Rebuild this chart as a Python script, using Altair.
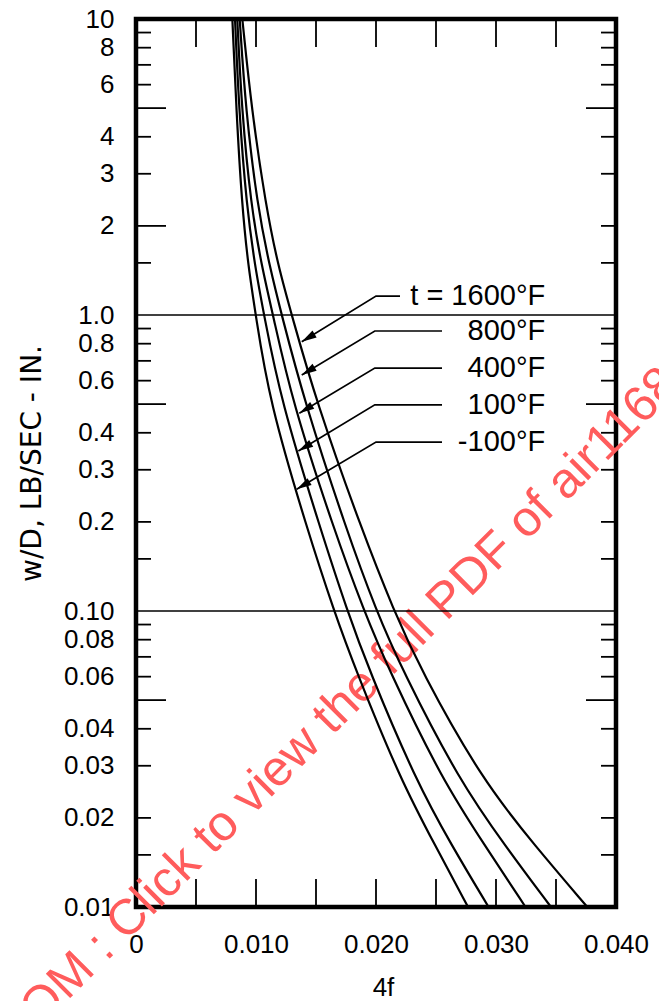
import altair as alt
import pandas as pd

# ---------------- data ----------------
TEMPS = ["-100", "100", "400", "800", "1600"]
WD_LEVELS = [10, 4.93, 2.35, 1.455, 1.0, 0.516, 0.188, 0.1, 0.0632, 0.0268, 0.016, 0.01]
F4_M100 = [0.00803, 0.00836, 0.00883, 0.00936, 0.00998, 0.01108, 0.01428, 0.0165, 0.01831, 0.02206, 0.02498, 0.02767]
F4_100 = [0.00825, 0.00858, 0.00921, 0.00992, 0.01067, 0.01206, 0.01539, 0.01761, 0.01942, 0.02331, 0.02636, 0.02938]
F4_400 = [0.00844, 0.00881, 0.00958, 0.01048, 0.01142, 0.01298, 0.0165, 0.019, 0.02108, 0.02553, 0.02914, 0.03246]
F4_800 = [0.00864, 0.00914, 0.01011, 0.01114, 0.01214, 0.014, 0.01753, 0.02003, 0.02219, 0.02692, 0.03081, 0.03458]
F4_1600 = [0.00886, 0.00964, 0.01081, 0.01186, 0.01298, 0.01498, 0.01881, 0.0215, 0.02373, 0.02886, 0.03331, 0.03761]

LABELS = ["t = 1600°F", "800°F", "400°F", "100°F", "-100°F"]
LABEL_RIGHT_X = [0.0341, 0.0341, 0.0341, 0.0341, 0.0341]
LABEL_Y = [1.159, 0.883, 0.662, 0.497, 0.372]
LEADER_START_X = [0.0220, 0.0255, 0.0255, 0.0255, 0.0255]
LEADER_KNEE_X = [0.0200, 0.0199, 0.0199, 0.0199, 0.0200]
ARROW_TIP_X = [0.01381, 0.01381, 0.01361, 0.01353, 0.01339]
ARROW_TIP_Y = [0.812, 0.627, 0.466, 0.347, 0.2577]

X_LABEL_VALUES = [0, 0.01, 0.02, 0.03, 0.04]
X_MINOR_TICKS = [0.005, 0.010, 0.015, 0.020, 0.025, 0.030, 0.035]
Y_LABEL_VALUES = [0.01, 0.02, 0.03, 0.04, 0.06, 0.08, 0.1, 0.2, 0.3, 0.4, 0.6, 0.8,
                  1.0, 2, 3, 4, 6, 8, 10]
Y_TICKS_SHORT = [0.015, 0.02, 0.03, 0.04, 0.06, 0.07, 0.08, 0.09,
                 0.15, 0.2, 0.3, 0.4, 0.6, 0.7, 0.8, 0.9,
                 1.5, 3, 4, 6, 7, 8, 9]
Y_TICKS_LONG = [0.05, 0.5, 2, 5]
Y_TICKS_SHORT_R = [0.015, 0.02, 0.03, 0.04, 0.06, 0.07, 0.08, 0.09,
                   0.15, 0.2, 0.3, 0.4, 0.6, 0.7, 0.8, 0.9,
                   1.5, 2, 3, 4, 6, 7, 8, 9]
Y_TICKS_LONG_R = [0.05, 0.5, 5]
GRID_Y = [1.0, 0.1]

WM_TEXT = "OM : Click to view the full PDF of air1168"
WM_X = [0.01783]
WM_Y = [0.0512]

# ---------------- tables ----------------
curve_rows = []
for t, xs in zip(TEMPS, [F4_M100, F4_100, F4_400, F4_800, F4_1600]):
    for i, (xv, yv) in enumerate(zip(xs, WD_LEVELS)):
        curve_rows.append({"x": xv, "y": yv, "t": t, "o": i})
curves_df = pd.DataFrame(curve_rows)

lead_rows = []
for i, lab in enumerate(LABELS):
    lead_rows.append({"x": LEADER_START_X[i], "y": LABEL_Y[i], "lab": lab, "o": 0})
    lead_rows.append({"x": LEADER_KNEE_X[i], "y": LABEL_Y[i], "lab": lab, "o": 1})
    lead_rows.append({"x": ARROW_TIP_X[i], "y": ARROW_TIP_Y[i], "lab": lab, "o": 2})
lead_df = pd.DataFrame(lead_rows)
tips_df = pd.DataFrame({"x": ARROW_TIP_X, "y": ARROW_TIP_Y})
labels_df = pd.DataFrame({"x": LABEL_RIGHT_X, "y": LABEL_Y, "label": LABELS})
wm_df = pd.DataFrame({"x": WM_X, "y": WM_Y, "label": [WM_TEXT]})

W, H = 480, 888
FONT = "Liberation Sans"

x_scale = alt.Scale(domain=[0, 0.04], nice=False, zero=False)
y_scale = alt.Scale(type="log", domain=[0.01, 10], nice=False)

x_axis = alt.Axis(
    values=X_LABEL_VALUES,
    labelExpr="datum.value == 0 ? '0' : format(datum.value, '.3f')",
    ticks=False, domain=False, grid=False,
    labelFont=FONT, labelFontSize=26, labelColor="black", labelPadding=24,
    labelFlush=False, labelOverlap=False,
    title="4f", titleFont=FONT, titleFontSize=26, titleFontWeight="normal",
    titleColor="black", titleX=247, titleY=80, titleBaseline="middle",
    titleAlign="center",
)
y_axis = alt.Axis(
    values=Y_LABEL_VALUES,
    labelExpr="datum.value >= 2 ? format(datum.value, 'd') : (datum.value >= 0.15 ? format(datum.value, '.1f') : format(datum.value, '.2f'))",
    ticks=False, domain=False, grid=False,
    labelFont=FONT, labelFontSize=26, labelColor="black", labelPadding=22,
    labelFlush=False, labelOverlap=False,
    title="w/D, LB/SEC - IN.", titleFont="DejaVu Sans", titleFontSize=28,
    titleFontWeight="normal", titleColor="black", titleAngle=270,
    titleX=-104, titleY=444, titleAlign="center", titleBaseline="middle",
)

X = lambda: alt.X("x:Q", scale=x_scale, axis=x_axis)
Y = lambda: alt.Y("y:Q", scale=y_scale, axis=y_axis)

watermark = alt.Chart(wm_df).mark_text(
    angle=315, align="center", baseline="middle", fontSize=50, font=FONT,
    color="#ff5c5c"
).encode(x=X(), y=Y(), text="label:N")

grid = alt.Chart(pd.DataFrame({"y": GRID_Y})).mark_rule(
    color="black", strokeWidth=1.6
).encode(y=Y(), x=alt.value(0), x2=alt.value(W))

xt_df = pd.DataFrame({"x": X_MINOR_TICKS})
xt_bottom = alt.Chart(xt_df).mark_rule(color="black", strokeWidth=1.8).encode(
    x=X(), y=alt.value(H), y2=alt.value(H - 28))
xt_top = alt.Chart(xt_df).mark_rule(color="black", strokeWidth=1.8).encode(
    x=X(), y=alt.value(0), y2=alt.value(28))

yl_short = alt.Chart(pd.DataFrame({"y": Y_TICKS_SHORT})).mark_rule(
    color="black", strokeWidth=1.8).encode(y=Y(), x=alt.value(0), x2=alt.value(15))
yl_long = alt.Chart(pd.DataFrame({"y": Y_TICKS_LONG})).mark_rule(
    color="black", strokeWidth=1.8).encode(y=Y(), x=alt.value(0), x2=alt.value(30))
yr_short = alt.Chart(pd.DataFrame({"y": Y_TICKS_SHORT_R})).mark_rule(
    color="black", strokeWidth=1.8).encode(y=Y(), x=alt.value(W), x2=alt.value(W - 15))
yr_long = alt.Chart(pd.DataFrame({"y": Y_TICKS_LONG_R})).mark_rule(
    color="black", strokeWidth=1.8).encode(y=Y(), x=alt.value(W), x2=alt.value(W - 30))

curves = alt.Chart(curves_df).mark_line(
    color="black", strokeWidth=2.2, interpolate="basis"
).encode(x=X(), y=Y(), detail="t:N", order="o:Q")

leaders = alt.Chart(lead_df).mark_line(color="black", strokeWidth=1.7).encode(
    x=X(), y=Y(), detail="lab:N", order="o:Q")

heads = alt.Chart(tips_df).mark_point(
    shape="M0,0L0.8,3L-0.8,3Z", filled=True, size=100, angle=239,
    color="black", opacity=1, strokeWidth=0
).encode(x=X(), y=Y())

labels = alt.Chart(labels_df).mark_text(
    align="right", baseline="middle", fontSize=29, font=FONT, color="black"
).encode(x=X(), y=Y(), text="label:N")

chart = alt.layer(
    watermark, grid, xt_bottom, xt_top, yl_short, yl_long, yr_short, yr_long,
    curves, leaders, heads, labels
).properties(
    width=W, height=H,
    padding={"left": 136, "top": 19, "right": 43, "bottom": 94},
    autosize=alt.AutoSizeParams(type="none"),
    background="white",
).configure_view(stroke="black", strokeWidth=4.5)

chart.save("out.html", embed_options={"renderer": "svg", "actions": False})
